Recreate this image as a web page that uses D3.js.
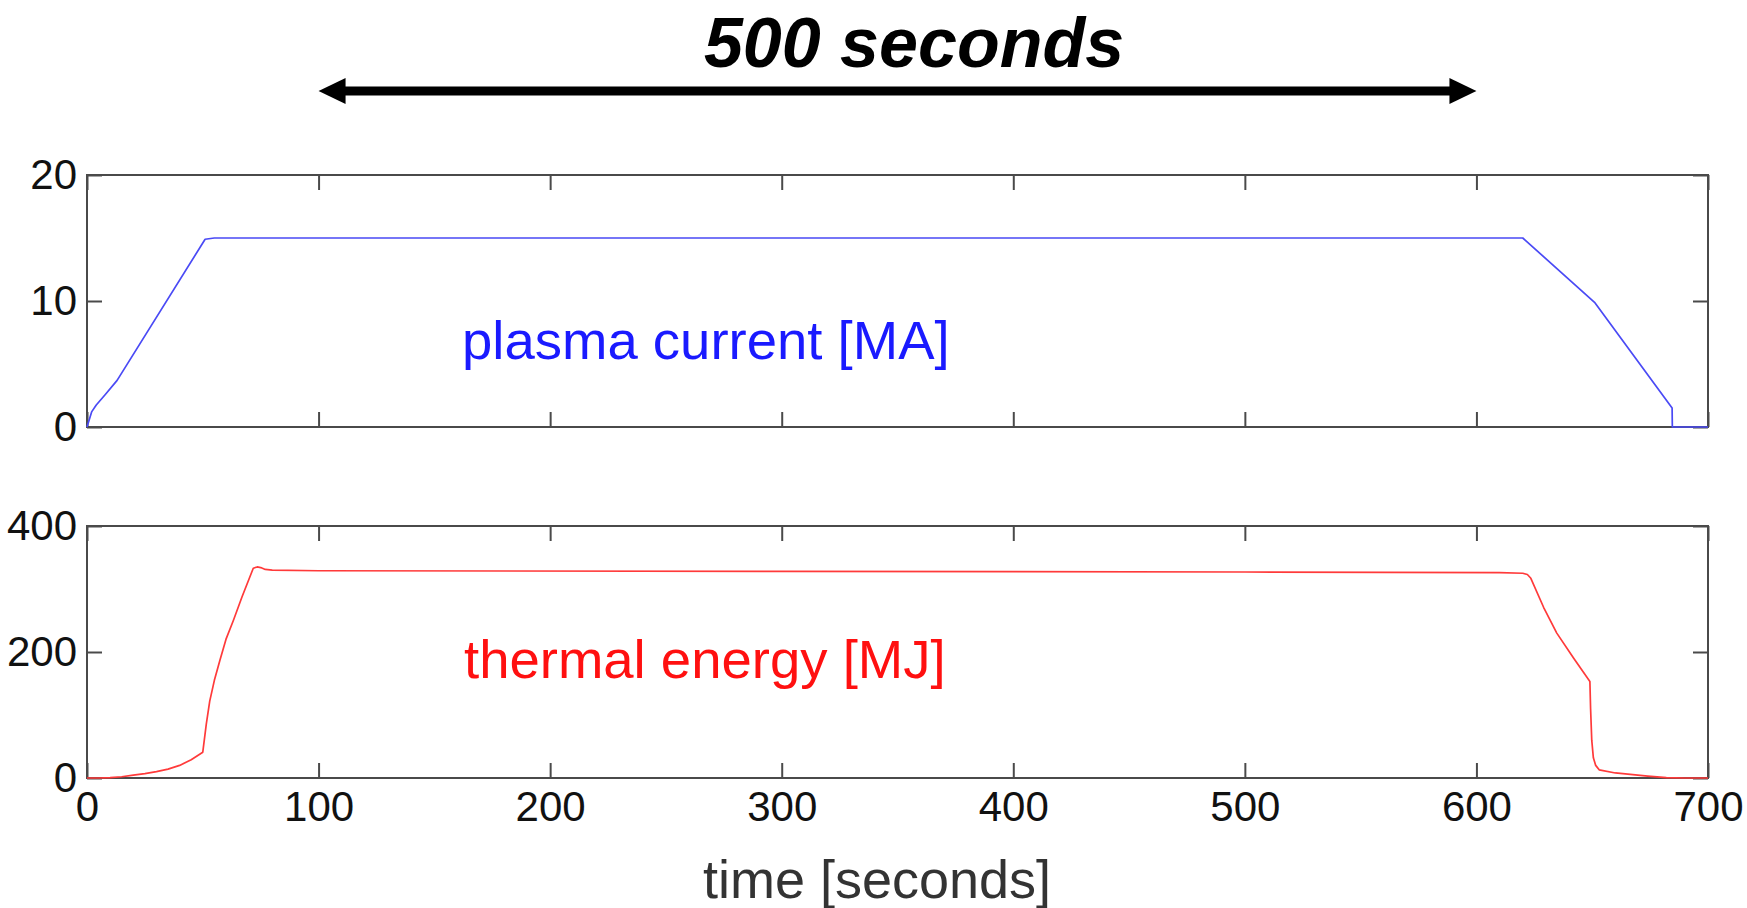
<!DOCTYPE html>
<html>
<head>
<meta charset="utf-8">
<script src="https://cdn.jsdelivr.net/npm/d3@7"></script>
<style>
  body { margin: 0; background: #fff; }
  svg { display: block; }
  text { font-family: "Liberation Sans", Arial, Helvetica, sans-serif; }
</style>
</head>
<body>
<div id="chart"></div>
<script>
const WIDTH = 1747;
const HEIGHT = 908;
const AXIS_COLOR = "#4a4a4a";
const BLUE_COLOR = "#4a4af5";
const RED_COLOR = "#ff3a3a";

// plasma current [MA] vs time [s]
const currentTime = [0, 1, 2, 4, 8, 13, 51, 55, 620, 651, 684.5, 684.6, 700];
const currentValue = [0, 0.6, 1.2, 1.75, 2.6, 3.7, 14.9, 15.0, 15.0, 9.9, 1.5, 0, 0];

// thermal energy [MJ] vs time [s]
const energyTime = [0, 5, 10, 15, 20, 25, 30, 35, 40, 45, 50, 51.5, 53, 55, 57.4, 60, 63.2, 67, 71.8, 73.5, 75,
    77, 80, 100, 300, 500, 610, 620, 622, 623.5, 629, 634.7, 642, 649, 649.3, 649.8, 650.5, 651.5, 653, 660, 674,
    682, 690, 700];
const energyValue = [0, 0, 0.5, 2, 4.5, 7, 10, 14, 20, 29, 41, 85, 122, 155, 187, 220, 250, 288, 333, 335, 334,
    331, 330, 329, 328, 327, 326, 325, 323, 317, 271, 230, 190, 153, 110, 60, 32, 20, 13, 8, 3,
    0.5, 0, 0];

const xTicks = [0, 100, 200, 300, 400, 500, 600, 700];
const currentTicks = [0, 10, 20];
const energyTicks = [0, 200, 400];

const svg = d3.select("#chart")
    .append("svg")
    .attr("width", WIDTH)
    .attr("height", HEIGHT);

const x = d3.scaleLinear().domain([0, 700]).range([87, 1708]);
const yTop = d3.scaleLinear().domain([0, 20]).range([427, 175]);
const yBottom = d3.scaleLinear().domain([0, 400]).range([778, 526]);

// draws one framed panel with inward ticks on all four sides
function drawPanel(yScale, yTicks, showXLabels) {
    const g = svg.append("g");
    const [y0, y1] = yScale.range();
    const [x0, x1] = x.range();

    const styleAxis = function (sel) {
        sel.select(".domain").remove();
        sel.selectAll(".tick line").attr("stroke", AXIS_COLOR).attr("stroke-width", 2);
        sel.selectAll(".tick text")
            .attr("fill", "#111")
            .style("font-size", "42px");
    };

    g.append("g")
        .attr("transform", "translate(0," + y0 + ")")
        .call(d3.axisBottom(x).tickValues(xTicks).tickSize(-15).tickPadding(13)
            .tickFormat(showXLabels ? d3.format("d") : ""))
        .call(styleAxis);
    g.append("g")
        .attr("transform", "translate(0," + y1 + ")")
        .call(d3.axisTop(x).tickValues(xTicks).tickSize(-15).tickFormat(""))
        .call(styleAxis);
    g.append("g")
        .attr("transform", "translate(" + x0 + ",0)")
        .call(d3.axisLeft(yScale).tickValues(yTicks).tickSize(-15).tickPadding(10).tickFormat(d3.format("d")))
        .call(styleAxis);
    g.append("g")
        .attr("transform", "translate(" + x1 + ",0)")
        .call(d3.axisRight(yScale).tickValues(yTicks).tickSize(-15).tickFormat(""))
        .call(styleAxis);

    g.append("rect")
        .attr("x", x0)
        .attr("y", y1)
        .attr("width", x1 - x0)
        .attr("height", y0 - y1)
        .attr("fill", "none")
        .attr("stroke", AXIS_COLOR)
        .attr("stroke-width", 2);
    return g;
}

drawPanel(yTop, currentTicks, false);
drawPanel(yBottom, energyTicks, true);

const currentLine = d3.line()
    .x((d, i) => x(currentTime[i]))
    .y(d => yTop(d));
svg.append("path")
    .attr("d", currentLine(currentValue))
    .attr("fill", "none")
    .attr("stroke", BLUE_COLOR)
    .attr("stroke-width", 1.7)
    .attr("stroke-linejoin", "round");

const energyLine = d3.line()
    .x((d, i) => x(energyTime[i]))
    .y(d => yBottom(d));
svg.append("path")
    .attr("d", energyLine(energyValue))
    .attr("fill", "none")
    .attr("stroke", RED_COLOR)
    .attr("stroke-width", 1.7)
    .attr("stroke-linejoin", "round");

// in-panel labels
svg.append("text")
    .attr("x", 462)
    .attr("y", 359)
    .attr("fill", "#1a1aff")
    .style("font-size", "54.5px")
    .text("plasma current [MA]");
svg.append("text")
    .attr("x", 464)
    .attr("y", 678)
    .attr("fill", "#ff1010")
    .style("font-size", "54.5px")
    .text("thermal energy [MJ]");

// x axis title
svg.append("text")
    .attr("x", 877)
    .attr("y", 898)
    .attr("text-anchor", "middle")
    .attr("fill", "#333")
    .style("font-size", "54px")
    .text("time [seconds]");

// 500 second span arrow
const arrowY = 91;
const ax0 = x(100);
const ax1 = x(600);
svg.append("line")
    .attr("x1", ax0 + 20)
    .attr("x2", ax1 - 20)
    .attr("y1", arrowY)
    .attr("y2", arrowY)
    .attr("stroke", "#000")
    .attr("stroke-width", 9);
svg.append("path")
    .attr("d", "M" + ax0 + "," + arrowY + "L" + (ax0 + 27) + "," + (arrowY - 13) + "L" + (ax0 + 27) + "," + (arrowY + 13) + "Z")
    .attr("fill", "#000");
svg.append("path")
    .attr("d", "M" + ax1 + "," + arrowY + "L" + (ax1 - 27) + "," + (arrowY - 13) + "L" + (ax1 - 27) + "," + (arrowY + 13) + "Z")
    .attr("fill", "#000");

svg.append("text")
    .attr("x", 914)
    .attr("y", 67)
    .attr("text-anchor", "middle")
    .attr("fill", "#000")
    .style("font-size", "70px")
    .style("font-weight", "bold")
    .style("font-style", "italic")
    .text("500 seconds");
</script>
</body>
</html>
